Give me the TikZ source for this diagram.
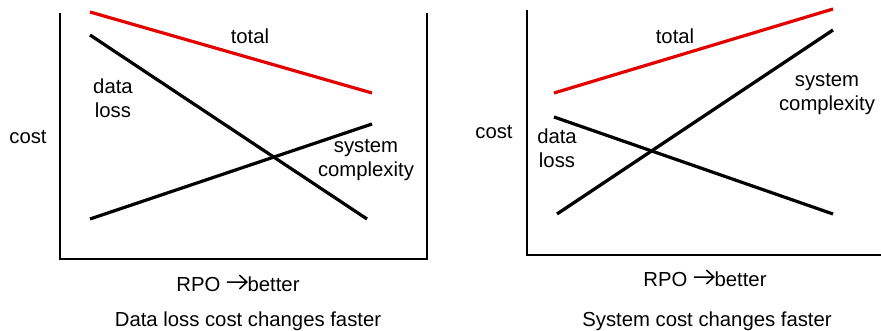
\documentclass[tikz,border=0pt]{standalone}
\usepackage{fontspec}
\setmainfont{Liberation Sans}
\newcommand\myrarrow{\tikz[x=1pt,y=1pt,baseline=0pt]{\draw[line width=1.5pt, line join=miter] (0,9.5) -- (20,9.5) (12.5,2.5) -- (20,9.5) -- (12.5,16.5);}}
\begin{document}
\begin{tikzpicture}[x=1pt,y=-1pt,
  lbl/.style={font=\fontsize{20.3}{24.5}\selectfont, inner sep=0pt, align=center},
  axis/.style={line width=2pt, black},
  curve/.style={line width=3.2pt, black},
  totalc/.style={line width=3.2pt, red!90!black}]
\useasboundingbox (0,0) rectangle (881,331);
% ---- left panel ----
\coordinate (LA) at (60,13);
\coordinate (LO) at (60,259);
\coordinate (LR) at (427,259);
\coordinate (LB) at (427,13);
\draw[axis] (LA) -- (LO) -- (LR) -- (LB);
\coordinate (lt1) at (90,12); \coordinate (lt2) at (372,93);
\coordinate (ld1) at (90,35); \coordinate (ld2) at (367,219);
\coordinate (ls1) at (90,219); \coordinate (ls2) at (372,124);
\draw[totalc] (lt1) -- (lt2);
\draw[curve] (ld1) -- (ld2);
\draw[curve] (ls1) -- (ls2);
\node[lbl] (ltot) at (250,36) {total};
\node[lbl] (ldata) at (113,98) {data\\loss};
\node[lbl] (lcost) at (28,137) {cost};
\node[lbl] (lsys) at (366,160) {system\\complexity};
\node[lbl] (lrpo) at (238,283) {RPO \myrarrow better};
\node[lbl] (lcap) at (248,321) {Data loss cost changes faster};
% ---- right panel ----
\coordinate (RA) at (527,10);
\coordinate (RO) at (527,255);
\coordinate (RR) at (881,255);
\draw[axis] (RA) -- (RO) -- (RR);
\coordinate (rt1) at (554,93); \coordinate (rt2) at (833,9);
\coordinate (rs1) at (557,214); \coordinate (rs2) at (833,30);
\coordinate (rd1) at (554,117); \coordinate (rd2) at (833,214);
\draw[totalc] (rt1) -- (rt2);
\draw[curve] (rs1) -- (rs2);
\draw[curve] (rd1) -- (rd2);
\node[lbl] (rtot) at (675,36) {total};
\node[lbl] (rdata) at (557,148) {data\\loss};
\node[lbl] (rcost) at (494,132) {cost};
\node[lbl] (rsys) at (827,94) {system\\complexity};
\node[lbl] (rrpo) at (705,278) {RPO \myrarrow better};
\node[lbl] (rcap) at (707,321) {System cost changes faster};
\end{tikzpicture}
\end{document}
